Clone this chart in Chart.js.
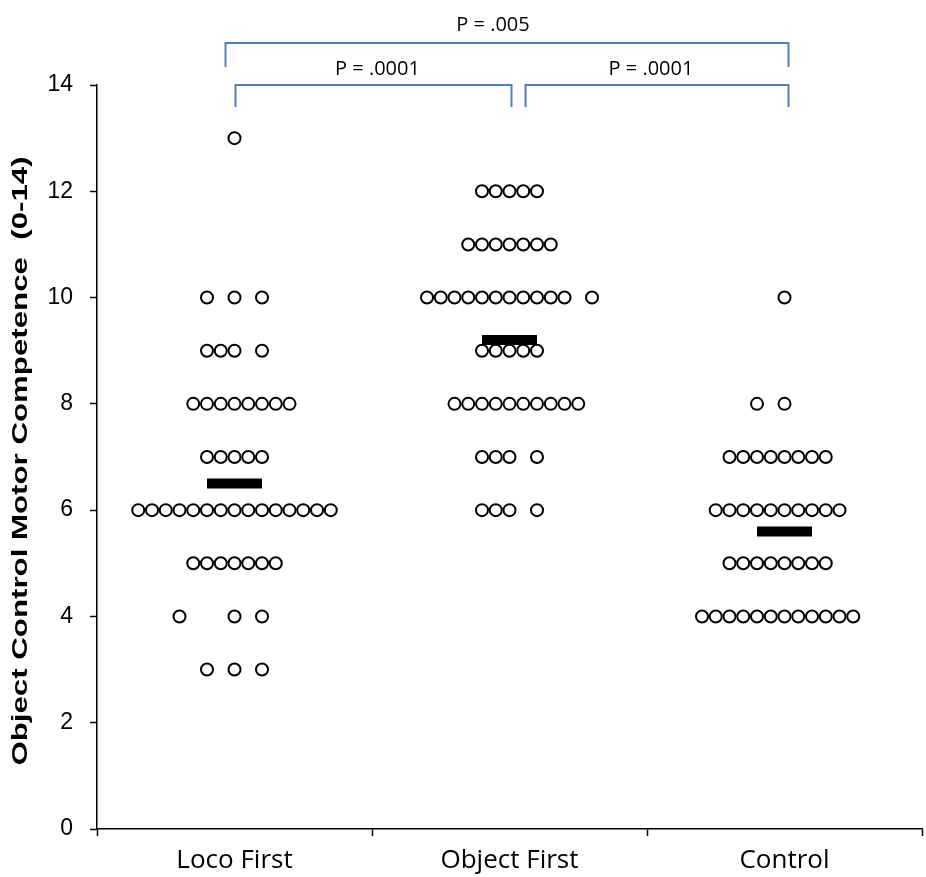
<!DOCTYPE html>
<html>
<head>
<meta charset="utf-8">
<script src="https://cdn.jsdelivr.net/npm/chart.js@4.4.1/dist/chart.umd.min.js"></script>
<style>
  html, body { margin: 0; padding: 0; background: #fff; }
</style>
</head>
<body>
<canvas id="motor" width="926" height="877"></canvas>
<script>
// categories
const groups = ["Loco First", "Object First", "Control"];

// one row per score: [score, slots of the circles in that row]
const locoRows = [
  [13, [0]],
  [10, [-2, 0, 2]],
  [9, [-2, -1, 0, 2]],
  [8, [-3, -2, -1, 0, 1, 2, 3, 4]],
  [7, [-2, -1, 0, 1, 2]],
  [6, [-7, -6, -5, -4, -3, -2, -1, 0, 1, 2, 3, 4, 5, 6, 7]],
  [5, [-3, -2, -1, 0, 1, 2, 3]],
  [4, [-4, 0, 2]],
  [3, [-2, 0, 2]],
];
const objectRows = [
  [12, [-2, -1, 0, 1, 2]],
  [11, [-3, -2, -1, 0, 1, 2, 3]],
  [10, [-6, -5, -4, -3, -2, -1, 0, 1, 2, 3, 4, 6]],
  [9, [-2, -1, 0, 1, 2]],
  [8, [-4, -3, -2, -1, 0, 1, 2, 3, 4, 5]],
  [7, [-2, -1, 0, 2]],
  [6, [-2, -1, 0, 2]],
];
const controlRows = [
  [10, [0]],
  [8, [-2, 0]],
  [7, [-4, -3, -2, -1, 0, 1, 2, 3]],
  [6, [-5, -4, -3, -2, -1, 0, 1, 2, 3, 4]],
  [5, [-4, -3, -2, -1, 0, 1, 2, 3]],
  [4, [-6, -5, -4, -3, -2, -1, 0, 1, 2, 3, 4, 5]],
];
const groupMeans = [6.5, 9.2, 5.6];

// comparisons shown as brackets: [from group, to group, label]
const comparisons = [
  [0, 2, "P = .005"],
  [0, 1, "P = .0001"],
  [1, 2, "P = .0001"],
];

const slot = 0.05; // width of one circle, in category units
const yTitle = "Object Control Motor Competence  (0-14)";

// build scatter points
function toPoints(rows, g) {
  const pts = [];
  rows.forEach(function (r) {
    r[1].forEach(function (s) {
      pts.push({ x: g + s * slot, y: r[0] });
    });
  });
  return pts;
}
const allRows = [locoRows, objectRows, controlRows];

// mean bars as short thick line pieces, split by gaps
const meanPts = [];
groupMeans.forEach(function (m, g) {
  meanPts.push({ x: g - 2 * slot, y: m });
  meanPts.push({ x: g + 2 * slot, y: m });
  meanPts.push({ x: g + 0.5, y: null });
});

const bracketPlugin = {
  id: "brackets",
  afterDraw(chart) {
    const ctx = chart.ctx;
    const xs = chart.scales.x;
    const area = chart.chartArea;
    ctx.save();
    ctx.strokeStyle = "#4f81bd";
    ctx.lineWidth = 2;
    ctx.fillStyle = "#000";
    ctx.font = "20px 'Open Sans'";
    ctx.textAlign = "center";
    ctx.textBaseline = "middle";
    comparisons.forEach(function (c) {
      const wide = c[1] - c[0] > 1;
      let x1 = xs.getPixelForValue(c[0]);
      let x2 = xs.getPixelForValue(c[1]);
      let top, bot, ty, tx;
      if (wide) {
        x1 -= 9; x2 += 4; top = 43; bot = 67; ty = 25; tx = xs.getPixelForValue(0.94);
      } else {
        if (c[0] === 0) { x1 += 1; x2 += 2; } else { x1 += 16; x2 += 4; }
        top = 85; bot = 107; ty = 69; tx = (x1 + x2) / 2 + (c[0] === 0 ? 4 : -6);
      }
      ctx.beginPath();
      ctx.moveTo(x1, bot);
      ctx.lineTo(x1, top);
      ctx.lineTo(x2, top);
      ctx.lineTo(x2, bot);
      ctx.stroke();
      ctx.fillText(c[2], tx, ty);
    });

    // y axis title, stretched along its length like the original
    ctx.translate(21, (area.top + area.bottom) / 2 + 4);
    ctx.rotate(-Math.PI / 2);
    ctx.scale(1.42, 1);
    ctx.font = "bold 22px 'Liberation Sans'";
    ctx.fillText(yTitle, 0, 0);
    ctx.restore();
  },
};

const ctxMotor = document.getElementById("motor").getContext("2d");
const motorChart = new Chart(ctxMotor, {
  type: "scatter",
  data: {
    datasets: [
      {
        type: "line",
        data: meanPts,
        borderColor: "#000",
        borderWidth: 10,
        borderCapStyle: "butt",
        pointRadius: 0,
        spanGaps: false,
        order: 0,
      },
    ].concat(
      allRows.map(function (rows, g) {
        return {
          label: groups[g],
          data: toPoints(rows, g),
          pointStyle: "circle",
          pointRadius: 6,
          pointHoverRadius: 6,
          borderWidth: 2,
          borderColor: "#000",
          backgroundColor: "#fff",
          order: 1,
        };
      })
    ),
  },
  options: {
    responsive: false,
    animation: false,
    devicePixelRatio: 1,
    layout: { autoPadding: false, padding: { top: 85, right: 4, left: 0, bottom: 0 } },
    plugins: { legend: { display: false }, tooltip: { enabled: false } },
    scales: {
      x: {
        type: "linear",
        min: -0.5,
        max: 2.5,
        afterFit: function (s) { s.height = 48; s.paddingLeft = 0; s.paddingRight = 0; },
        ticks: {
          stepSize: 0.5,
          autoSkip: false,
          maxRotation: 0,
          padding: 9,
          color: "#000",
          font: { family: "'Open Sans'", size: 26 },
          callback: function (v) { return Number.isInteger(v) ? groups[v] : ""; },
        },
        grid: {
          drawOnChartArea: false,
          tickLength: 7,
          tickWidth: 1.5,
          tickColor: function (c) {
            return c.tick && Number.isInteger(c.tick.value) ? "rgba(0,0,0,0)" : "#000";
          },
        },
        border: { color: "#000", width: 1.5 },
      },
      y: {
        min: 0,
        max: 14,
        afterFit: function (s) { s.width = 97; s.paddingTop = 0; s.paddingBottom = 0; },
        ticks: {
          stepSize: 2,
          padding: 17,
          color: "#000",
          font: { family: "'Liberation Sans'", size: 23 },
        },
        grid: { drawOnChartArea: false, tickLength: 7, tickWidth: 1.5, tickColor: "#000" },
        border: { color: "#000", width: 1.5 },
      },
    },
  },
  plugins: [bracketPlugin],
});
</script>
</body>
</html>
